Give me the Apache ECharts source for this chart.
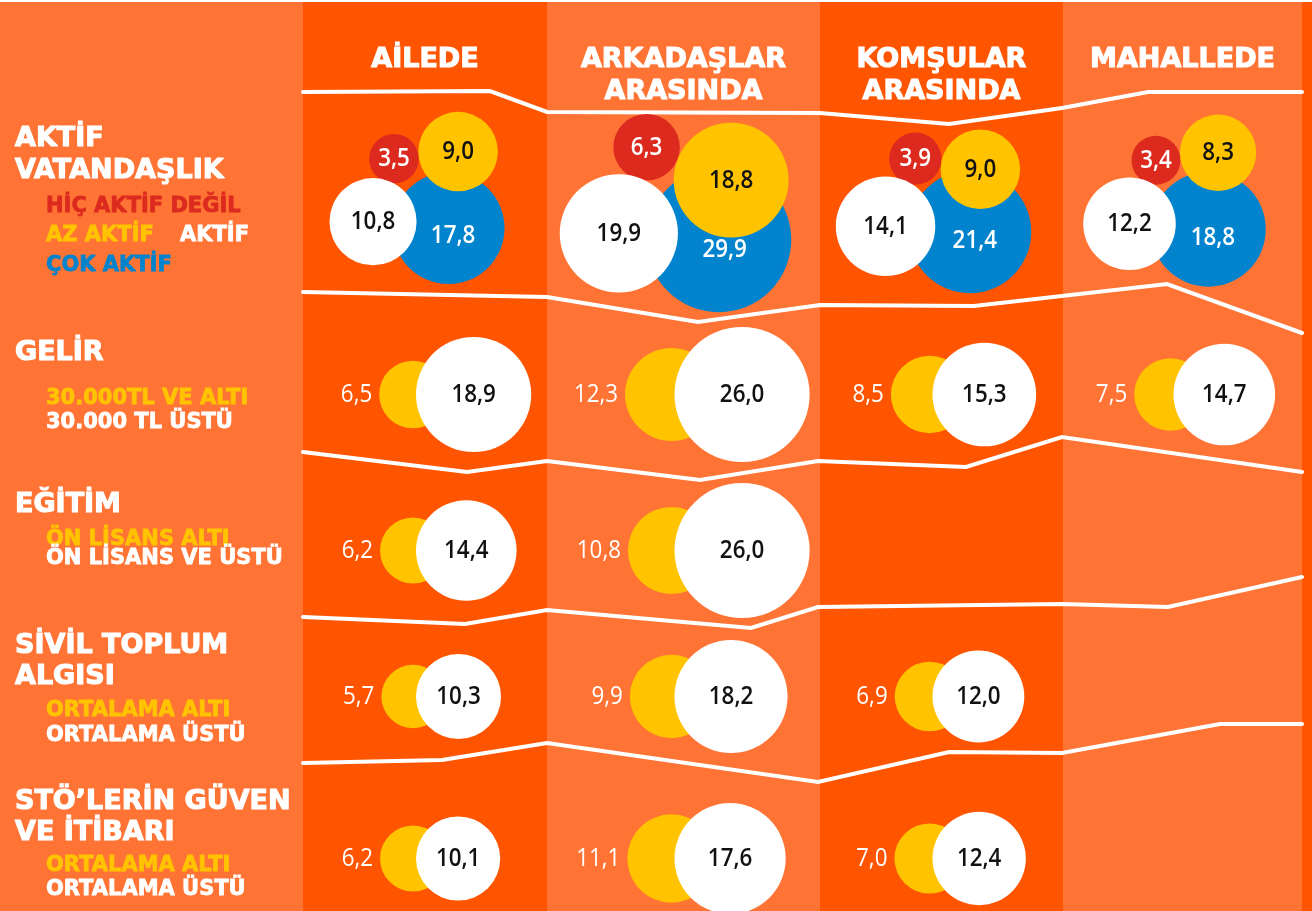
<!DOCTYPE html>
<html lang="tr">
<head>
<meta charset="utf-8">
<title>Aktif vatandaşlık ve güven</title>
<script src="https://cdn.jsdelivr.net/npm/echarts@6/dist/echarts.min.js"></script>
<style>
  html, body { margin: 0; padding: 0; background: #ffffff; }
  #chart { width: 1312px; height: 911px; }
</style>
</head>
<body>
<div id="chart"></div>
<script>
// ---- data ---------------------------------------------------------------
const columns = ['AİLEDE', 'ARKADAŞLAR\nARASINDA', 'KOMŞULAR\nARASINDA', 'MAHALLEDE'];

// Aktif vatandaşlık (per column)
const hicAktifDegil = [3.5, 6.3, 3.9, 3.4];
const azAktif       = [9.0, 18.8, 9.0, 8.3];
const aktif         = [10.8, 19.9, 14.1, 12.2];
const cokAktif      = [17.8, 29.9, 21.4, 18.8];

// Gelir
const gelirAlti = [6.5, 12.3, 8.5, 7.5];
const gelirUstu = [18.9, 26.0, 15.3, 14.7];

// Eğitim
const egitimAlti = [6.2, 10.8, null, null];
const egitimUstu = [14.4, 26.0, null, null];

// Sivil toplum algısı
const sivilAlti = [5.7, 9.9, 6.9, null];
const sivilUstu = [10.3, 18.2, 12.0, null];

// STÖ'lerin güven ve itibarı
const stoAlti = [6.2, 11.1, 7.0, null];
const stoUstu = [10.1, 17.6, 12.4, null];

// Row titles and their sub-labels
const rowTitles = ['AKTİF\nVATANDAŞLIK', 'GELİR', 'EĞİTİM', 'SİVİL TOPLUM\nALGISI', 'STÖ’LERİN GÜVEN\nVE İTİBARI'];
const aktifLegend = ['HİÇ AKTİF DEĞİL', 'AZ AKTİF', 'AKTİF', 'ÇOK AKTİF'];
const pairLegends = [
  ['30.000TL VE ALTI', '30.000 TL ÜSTÜ'],
  ['ÖN LİSANS ALTI', 'ÖN LİSANS VE ÜSTÜ'],
  ['ORTALAMA ALTI', 'ORTALAMA ÜSTÜ'],
  ['ORTALAMA ALTI', 'ORTALAMA ÜSTÜ']
];

// ---- layout & style ----------------------------------------------------
const LIGHT = '#FF7435', DARK = '#FF5500';
const RED = '#DD2A1E', YELLOW = '#FFC300', BLUE = '#0283CE';
const HEAD_FONT = "bold 27px 'DejaVu Sans'";
const SUB_FONT = "bold 21px 'DejaVu Sans'";
const NUM_FONT = "600 26px 'Open Sans'";
const NUM_FONT_OUT = "400 26px 'Open Sans'";
const NUM_SQUEEZE = 0.86;

const colWidths = [244, 273, 243, 239];
const colEdges = colWidths.reduce((a, w) => { a.push(a[a.length - 1] + w); return a; }, [0]);
const colCenter = i => colEdges[i] + colWidths[i] / 2;
const PLOT_W = colEdges[colEdges.length - 1];
const PLOT_H = 911;
const rowMid = [189, 394.5, 550.5, 696.5, 858.5];

// white separators between rows (axis units)
const dividers = [
  [[0, 92], [187, 91], [244, 112], [517, 113], [646, 124], [759, 108], [845, 92], [999, 92]],
  [[0, 292], [244, 297], [395, 322], [517, 305], [671, 306], [864, 284], [999, 333]],
  [[0, 452], [164, 472], [244, 461], [397, 480], [515, 461], [663, 467], [759, 437], [999, 472]],
  [[0, 617], [162, 624], [244, 610], [448, 628], [515, 607], [759, 604], [865, 607], [999, 577]],
  [[0, 763], [139, 760], [244, 743], [515, 782], [646, 752], [759, 753], [917, 724], [999, 724]]
];

// bubble area proportional to value
const radius = v => 13.25 * Math.sqrt(v);
const fmt = v => v.toFixed(1).replace('.', ',');

function numText(x, y, v, fill, font, align) {
  return { type: 'text', x, y, scaleX: NUM_SQUEEZE,
    style: { text: fmt(v), fill, font, align: align || 'center', verticalAlign: 'middle' } };
}

// y of a pixel polyline at pixel x
function polyY(pts, x) {
  for (let k = 0; k < pts.length - 1; k++) {
    const a = pts[k], b = pts[k + 1];
    if (x >= a[0] && x <= b[0]) return a[1] + (b[1] - a[1]) * (x - a[0]) / (b[0] - a[0]);
  }
  return x < pts[0][0] ? pts[0][1] : pts[pts.length - 1][1];
}

// upper intersection of two circles (centre p, radius d1) and (centre q, radius d2)
function upperTangent(p, d1, q, d2) {
  const dx = q[0] - p[0], dy = q[1] - p[1];
  const d = Math.hypot(dx, dy);
  const a = (d * d + d1 * d1 - d2 * d2) / (2 * d);
  const h2 = d1 * d1 - a * a;
  if (h2 < 0) return null;
  const h = Math.sqrt(h2);
  const ux = dx / d, uy = dy / d;
  const px = p[0] + a * ux, py = p[1] + a * uy;
  const s1 = [px + h * uy, py - h * ux], s2 = [px - h * uy, py + h * ux];
  return s1[1] < s2[1] ? s1 : s2;
}

// ---- series builders ---------------------------------------------------
function columnItem(params, api) {
  const i = api.value(0);
  const p0 = api.coord([colEdges[i], 0]);
  const p1 = api.coord([colEdges[i + 1], PLOT_H]);
  const head = api.coord([colCenter(i), 44]);
  return {
    type: 'group',
    children: [
      { type: 'rect', shape: { x: p0[0], y: p0[1], width: p1[0] - p0[0], height: p1[1] - p0[1] },
        style: { fill: i % 2 === 0 ? DARK : LIGHT } },
      { type: 'text', x: head[0], y: head[1],
        style: { text: columns[i], fill: '#fff', stroke: '#fff', lineWidth: 1.1, font: HEAD_FONT,
                 align: 'center', verticalAlign: 'top', lineHeight: 32 } }
    ]
  };
}

function clusterItem(params, api) {
  const c = api.coord([api.value(0), api.value(1)]);
  const vR = api.value(2), vY = api.value(3), vW = api.value(4), vB = api.value(5);
  const rR = radius(vR), rY = radius(vY), rW = radius(vW), rB = radius(vB);
  const topLine = dividers[0].map(p => api.coord(p));
  // bottom pair: aktif (white) left, çok aktif (blue) right, overlapping
  const gap = 0.76 * (rW + rB);
  const span = rW + gap + rB;
  const wx = c[0] - 8 - span / 2 + rW;
  const bx = wx + gap;
  const wy = c[1] + 0.75 * rW;
  const by = c[1] + 0.7 * rB;
  // az aktif (yellow) rests on the blue one, kept below the header separator
  const yx = bx + 0.17 * rB;
  const yy = Math.max(by - 0.8 * (rB + rY), polyY(topLine, yx) + 10 + rY);
  // hiç aktif değil (red) nestles between white and yellow
  let rp = upperTangent([wx, wy], rR + rW - 2, [yx, yy], rR + rY);
  if (!rp) rp = [yx - (rR + rY + 3), yy - 4];
  return {
    type: 'group',
    children: [
      { type: 'circle', shape: { cx: bx, cy: by, r: rB }, style: { fill: BLUE } },
      { type: 'circle', shape: { cx: rp[0], cy: rp[1], r: rR }, style: { fill: RED } },
      { type: 'circle', shape: { cx: yx, cy: yy, r: rY }, style: { fill: YELLOW } },
      { type: 'circle', shape: { cx: wx, cy: wy, r: rW }, style: { fill: '#fff' } },
      numText(bx + 0.08 * rB, by + 0.14 * rB, vB, '#fff', NUM_FONT),
      numText(rp[0], rp[1], vR, '#fff', NUM_FONT),
      numText(yx, yy, vY, '#111', NUM_FONT),
      numText(wx, wy, vW, '#111', NUM_FONT)
    ]
  };
}

function pairItem(params, api) {
  const c = api.coord([api.value(0), api.value(1)]);
  const vA = api.value(2), vU = api.value(3);
  const rA = radius(vA), rU = radius(vU);
  const ax = c[0] - 12;
  const ux = ax + rU + 3;
  return {
    type: 'group',
    children: [
      { type: 'circle', shape: { cx: ax, cy: c[1], r: rA }, style: { fill: YELLOW } },
      { type: 'circle', shape: { cx: ux, cy: c[1], r: rU }, style: { fill: '#fff' } },
      numText(ax - rA - 7, c[1], vA, '#fff', NUM_FONT_OUT, 'right'),
      numText(ux, c[1], vU, '#111', NUM_FONT)
    ]
  };
}

function pairSeries(name, row, alt, ust) {
  const data = [];
  alt.forEach((v, i) => {
    if (v != null && ust[i] != null) data.push([colCenter(i), rowMid[row], v, ust[i]]);
  });
  return { type: 'custom', name, coordinateSystem: 'cartesian2d', z: 4, silent: true,
           renderItem: pairItem, data };
}

// ---- left panel texts ---------------------------------------------------
const titleTops = [[123, 32], [336.5, 32], [489, 32], [630, 31.5], [786, 31]];
const graphics = [
  { type: 'rect', left: 0, top: 0, shape: { width: 1312, height: 2 }, style: { fill: '#fff' }, z: 10 },
  { type: 'rect', right: 0, top: 0, shape: { width: 10, height: 911 }, style: { fill: DARK }, z: -1 }
];
rowTitles.forEach((t, i) => {
  graphics.push({ type: 'text', x: 15, y: titleTops[i][0],
    style: { text: t, fill: '#fff', stroke: '#fff', lineWidth: 1.1, font: HEAD_FONT,
             verticalAlign: 'top', lineHeight: titleTops[i][1] } });
});
const sub = (text, x, y, fill) => ({ type: 'text', x, y,
  style: { text, fill, stroke: fill, lineWidth: 0.8, font: SUB_FONT, verticalAlign: 'middle' } });
graphics.push(sub(aktifLegend[0], 46, 206.5, RED));
graphics.push(sub(aktifLegend[1], 46, 236, YELLOW));
graphics.push(sub(aktifLegend[2], 180, 236, '#fff'));
graphics.push(sub(aktifLegend[3], 46, 265.5, BLUE));
const pairLegendY = [[399, 423], [540, 558.5], [710.5, 735.5], [865.5, 889.5]];
pairLegends.forEach((lg, i) => {
  graphics.push(sub(lg[0], 46, pairLegendY[i][0], YELLOW));
  graphics.push(sub(lg[1], 46, pairLegendY[i][1], '#fff'));
});

// ---- chart ----------------------------------------------------------------
const chart = echarts.init(document.getElementById('chart'));
chart.setOption({
  backgroundColor: LIGHT,
  animation: false,
  grid: { left: 303, right: 10, top: 0, bottom: 0 },
  xAxis: { type: 'value', min: 0, max: PLOT_W, show: false },
  yAxis: { type: 'value', min: 0, max: PLOT_H, inverse: true, show: false },
  graphic: graphics,
  series: [
    { type: 'custom', name: 'columns', coordinateSystem: 'cartesian2d', z: 1, silent: true,
      renderItem: columnItem, data: columns.map((c, i) => [i]) },
    ...dividers.map((pts, k) => ({
      type: 'line', name: 'divider' + k, data: pts, z: 2, silent: true,
      symbol: 'none', lineStyle: { color: '#fff', width: 4, cap: 'round', join: 'miter' }
    })),
    { type: 'custom', name: 'Aktif vatandaşlık', coordinateSystem: 'cartesian2d', z: 4, silent: true,
      renderItem: clusterItem,
      data: columns.map((c, i) => [colCenter(i), rowMid[0], hicAktifDegil[i], azAktif[i], aktif[i], cokAktif[i]]) },
    pairSeries('Gelir', 1, gelirAlti, gelirUstu),
    pairSeries('Eğitim', 2, egitimAlti, egitimUstu),
    pairSeries('Sivil toplum algısı', 3, sivilAlti, sivilUstu),
    pairSeries('STÖ güven ve itibar', 4, stoAlti, stoUstu)
  ]
});
</script>
</body>
</html>
